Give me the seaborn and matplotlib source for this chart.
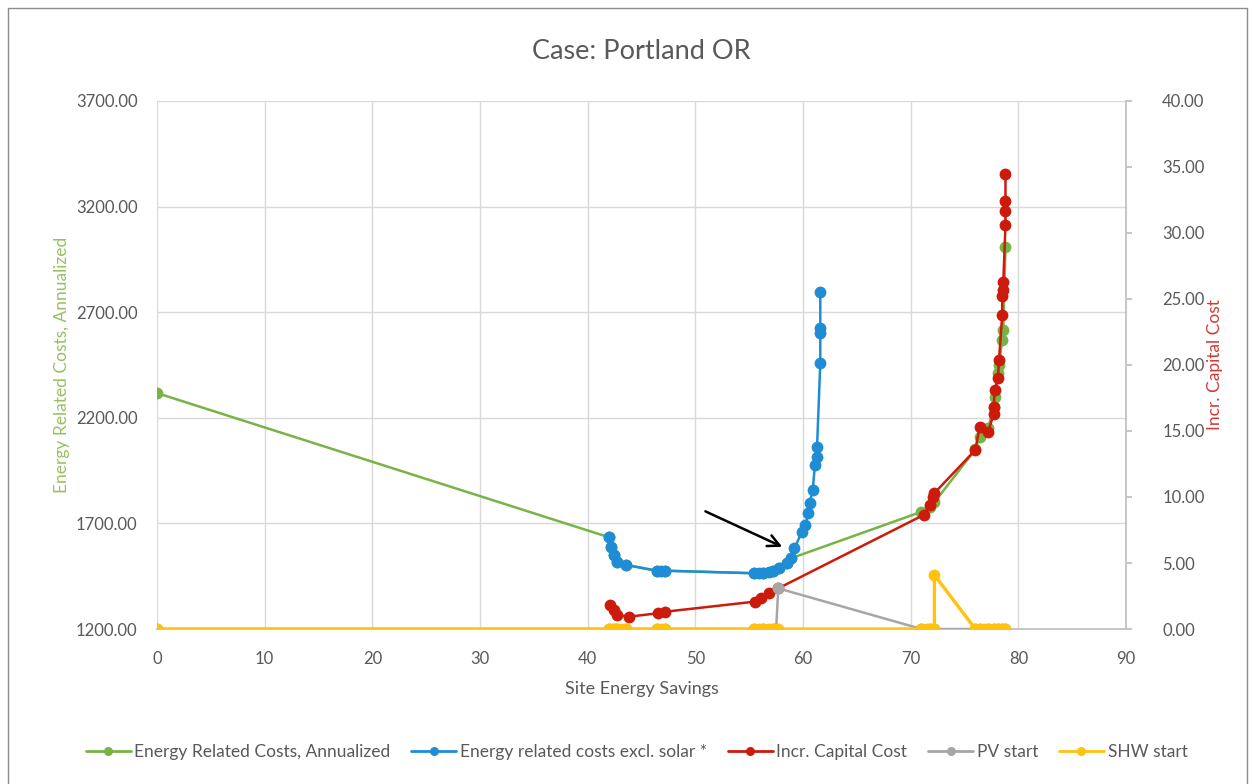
import numpy as np
import pandas as pd
import matplotlib.pyplot as plt
import matplotlib.patches as mpatches
from matplotlib.lines import Line2D
import seaborn as sns

# Site energy savings (x) and series values
green_x = [0, 42.0, 42.2, 42.4, 42.7, 43.6, 46.4, 47.2, 55.4, 56.3, 57.2, 57.8, 58.5, 58.9,
           71.0, 71.8, 72.2, 76.0, 76.4, 77.2, 77.7, 77.8, 78.1, 78.2, 78.5, 78.6, 78.8]
green_y = [2317, 1634, 1590, 1550, 1519, 1503, 1476, 1476, 1464, 1464, 1476, 1487, 1511, 1535,
           1755, 1779, 1800, 2050, 2110, 2150, 2253, 2300, 2411, 2450, 2568, 2616, 3010]

blue_x = [42.0, 42.2, 42.4, 42.7, 43.6, 46.4, 46.8, 47.2, 55.4, 55.9, 56.3, 56.8, 57.2, 57.8,
          58.5, 58.9, 59.2, 59.9, 60.2, 60.5, 60.6, 60.9, 61.1, 61.3, 61.3, 61.6, 61.6, 61.6, 61.6]
blue_y = [1634, 1590, 1550, 1519, 1503, 1476, 1476, 1476, 1464, 1464, 1464, 1470, 1476, 1487,
          1511, 1535, 1582, 1661, 1692, 1748, 1795, 1858, 1976, 2016, 2063, 2458, 2600, 2625, 2794]

red_x = [42.1, 42.4, 42.7, 43.8, 46.5, 47.2, 55.5, 56.1, 56.8, 57.7,
         71.2, 71.8, 72.1, 72.2, 76.0, 76.4, 77.2, 77.7, 77.7, 77.8, 78.1, 78.2,
         78.5, 78.5, 78.6, 78.6, 78.8, 78.8, 78.8, 78.8]
red_y = [1.82, 1.44, 1.06, 0.93, 1.19, 1.31, 2.07, 2.32, 2.70, 3.08,
         8.64, 9.39, 10.0, 10.3, 13.56, 15.3, 14.95, 16.3, 16.8, 18.1, 19.0, 20.4,
         23.8, 25.2, 25.7, 26.3, 30.6, 31.7, 32.4, 34.5]

pv_x = [0, 42.0, 42.4, 42.7, 43.6, 46.4, 47.2, 55.4, 56.3, 57.2, 57.5, 57.7,
        71.0, 71.8, 72.2, 76.0, 76.4, 77.2, 77.7, 78.1, 78.5, 78.8]
pv_y = [0, 0, 0, 0, 0, 0, 0, 0, 0, 0, 0, 3.08,
        0, 0, 0, 0, 0, 0, 0, 0, 0, 0]

shw_x = [0, 42.0, 42.2, 42.4, 42.7, 43.1, 43.6, 46.4, 46.8, 47.2, 55.4, 55.9, 56.3, 56.8,
         57.2, 57.7, 71.0, 71.5, 71.8, 72.2, 72.2, 76.0, 76.4, 76.8, 77.2, 77.7, 78.1, 78.5, 78.8]
shw_y = [0, 0, 0, 0, 0, 0, 0, 0, 0, 0, 0, 0, 0, 0,
         0, 0, 0, 0, 0, 0, 4.09, 0, 0, 0, 0, 0, 0, 0, 0]

x_ticks = [0, 10, 20, 30, 40, 50, 60, 70, 80, 90]
left_ticks = [1200, 1700, 2200, 2700, 3200, 3700]
right_ticks = [0, 5, 10, 15, 20, 25, 30, 35, 40]

sns.set_theme(style="white")
plt.rcParams['font.family'] = ['Lato', 'DejaVu Sans']

c_green = "#78b346"
c_blue = "#1f8dd6"
c_red = "#cc1a0c"
c_gray = "#a6a6a6"
c_yellow = "#ffc20e"
grid_c = "#d9d9d9"
text_c = "#595959"

fig = plt.figure(figsize=(12.53, 7.84), dpi=100)
ax = fig.add_axes([0.1253, 0.1977, 0.7734, 0.6735])
ax2 = ax.twinx()

kw = dict(sort=False, estimator=None, marker="o", markersize=8.5, markeredgewidth=0,
          linewidth=1.8, legend=False)
sns.lineplot(x=green_x, y=green_y, ax=ax, color=c_green, **kw)
sns.lineplot(x=blue_x, y=blue_y, ax=ax, color=c_blue, **kw)
sns.lineplot(x=red_x, y=red_y, ax=ax2, color=c_red, **kw)
sns.lineplot(x=pv_x, y=pv_y, ax=ax2, color=c_gray, **kw)
sns.lineplot(x=shw_x, y=shw_y, ax=ax2, color=c_yellow, sort=False, estimator=None,
             marker="o", markersize=8.5, markeredgewidth=0, linewidth=2.4, legend=False)

ax.set_xlim(0, 90)
ax.set_ylim(1200, 3700)
ax2.set_ylim(0, 40)
ax.set_xticks(x_ticks)
ax.set_yticks(left_ticks)
ax2.set_yticks(right_ticks)
ax.set_yticklabels([f"{v:.2f}" for v in left_ticks])
ax2.set_yticklabels([f"{v:.2f}" for v in right_ticks])

ax.grid(True, color=grid_c, linewidth=1)
ax.set_axisbelow(True)
for a in (ax, ax2):
    for s in a.spines.values():
        s.set_visible(False)
ax2.spines["right"].set_visible(True)
ax2.spines["right"].set_color("#bfbfbf")
ax.spines["bottom"].set_visible(True)
ax.spines["bottom"].set_color("#bfbfbf")

ax.tick_params(axis="x", length=0, pad=16, labelsize=12, labelcolor=text_c)
ax.tick_params(axis="y", length=0, pad=14, labelsize=12, labelcolor=text_c)
ax2.tick_params(axis="y", length=4, color="#bfbfbf", pad=22, labelsize=12, labelcolor=text_c)

ax.set_xlabel("Site Energy Savings", fontsize=13, color=text_c, labelpad=10)
ax.set_ylabel("Energy Related Costs, Annualized", fontsize=12.5, color="#97c160", labelpad=4)
ax2.set_ylabel("Incr. Capital Cost", fontsize=12.5, color="#d03a36", labelpad=2)

ax.set_title("Case: Portland OR", fontsize=19.5, color=text_c, pad=30)

# arrow pointing at the knee of the blue curve
ax2.annotate("", xy=(58.3, 6.14), xytext=(50.7, 9.0),
             arrowprops=dict(arrowstyle="->,head_length=0.7,head_width=0.35", color="black", lw=1.8))

labels = ["Energy Related Costs, Annualized", "Energy related costs excl. solar *",
          "Incr. Capital Cost", "PV start", "SHW start"]
colors = [c_green, c_blue, c_red, c_gray, c_yellow]
handles = [Line2D([], [], color=c, marker="o", markersize=6.5, markeredgewidth=0, linewidth=2)
           for c in colors]
fig.legend(handles, labels, loc="center", bbox_to_anchor=(0.508, 0.041), ncol=5,
           frameon=False, fontsize=12.5, labelcolor=text_c, handlelength=2.6,
           handletextpad=0.2, columnspacing=1.2)

# outer chart border
fig.patches.append(mpatches.Rectangle((8 / 1253, -0.01), 1239 / 1253, 1 - 8 / 784 + 0.01,
                                      transform=fig.transFigure, fill=False,
                                      edgecolor="#8c8c8c", linewidth=1))

fig.savefig("out.png", dpi=100)
